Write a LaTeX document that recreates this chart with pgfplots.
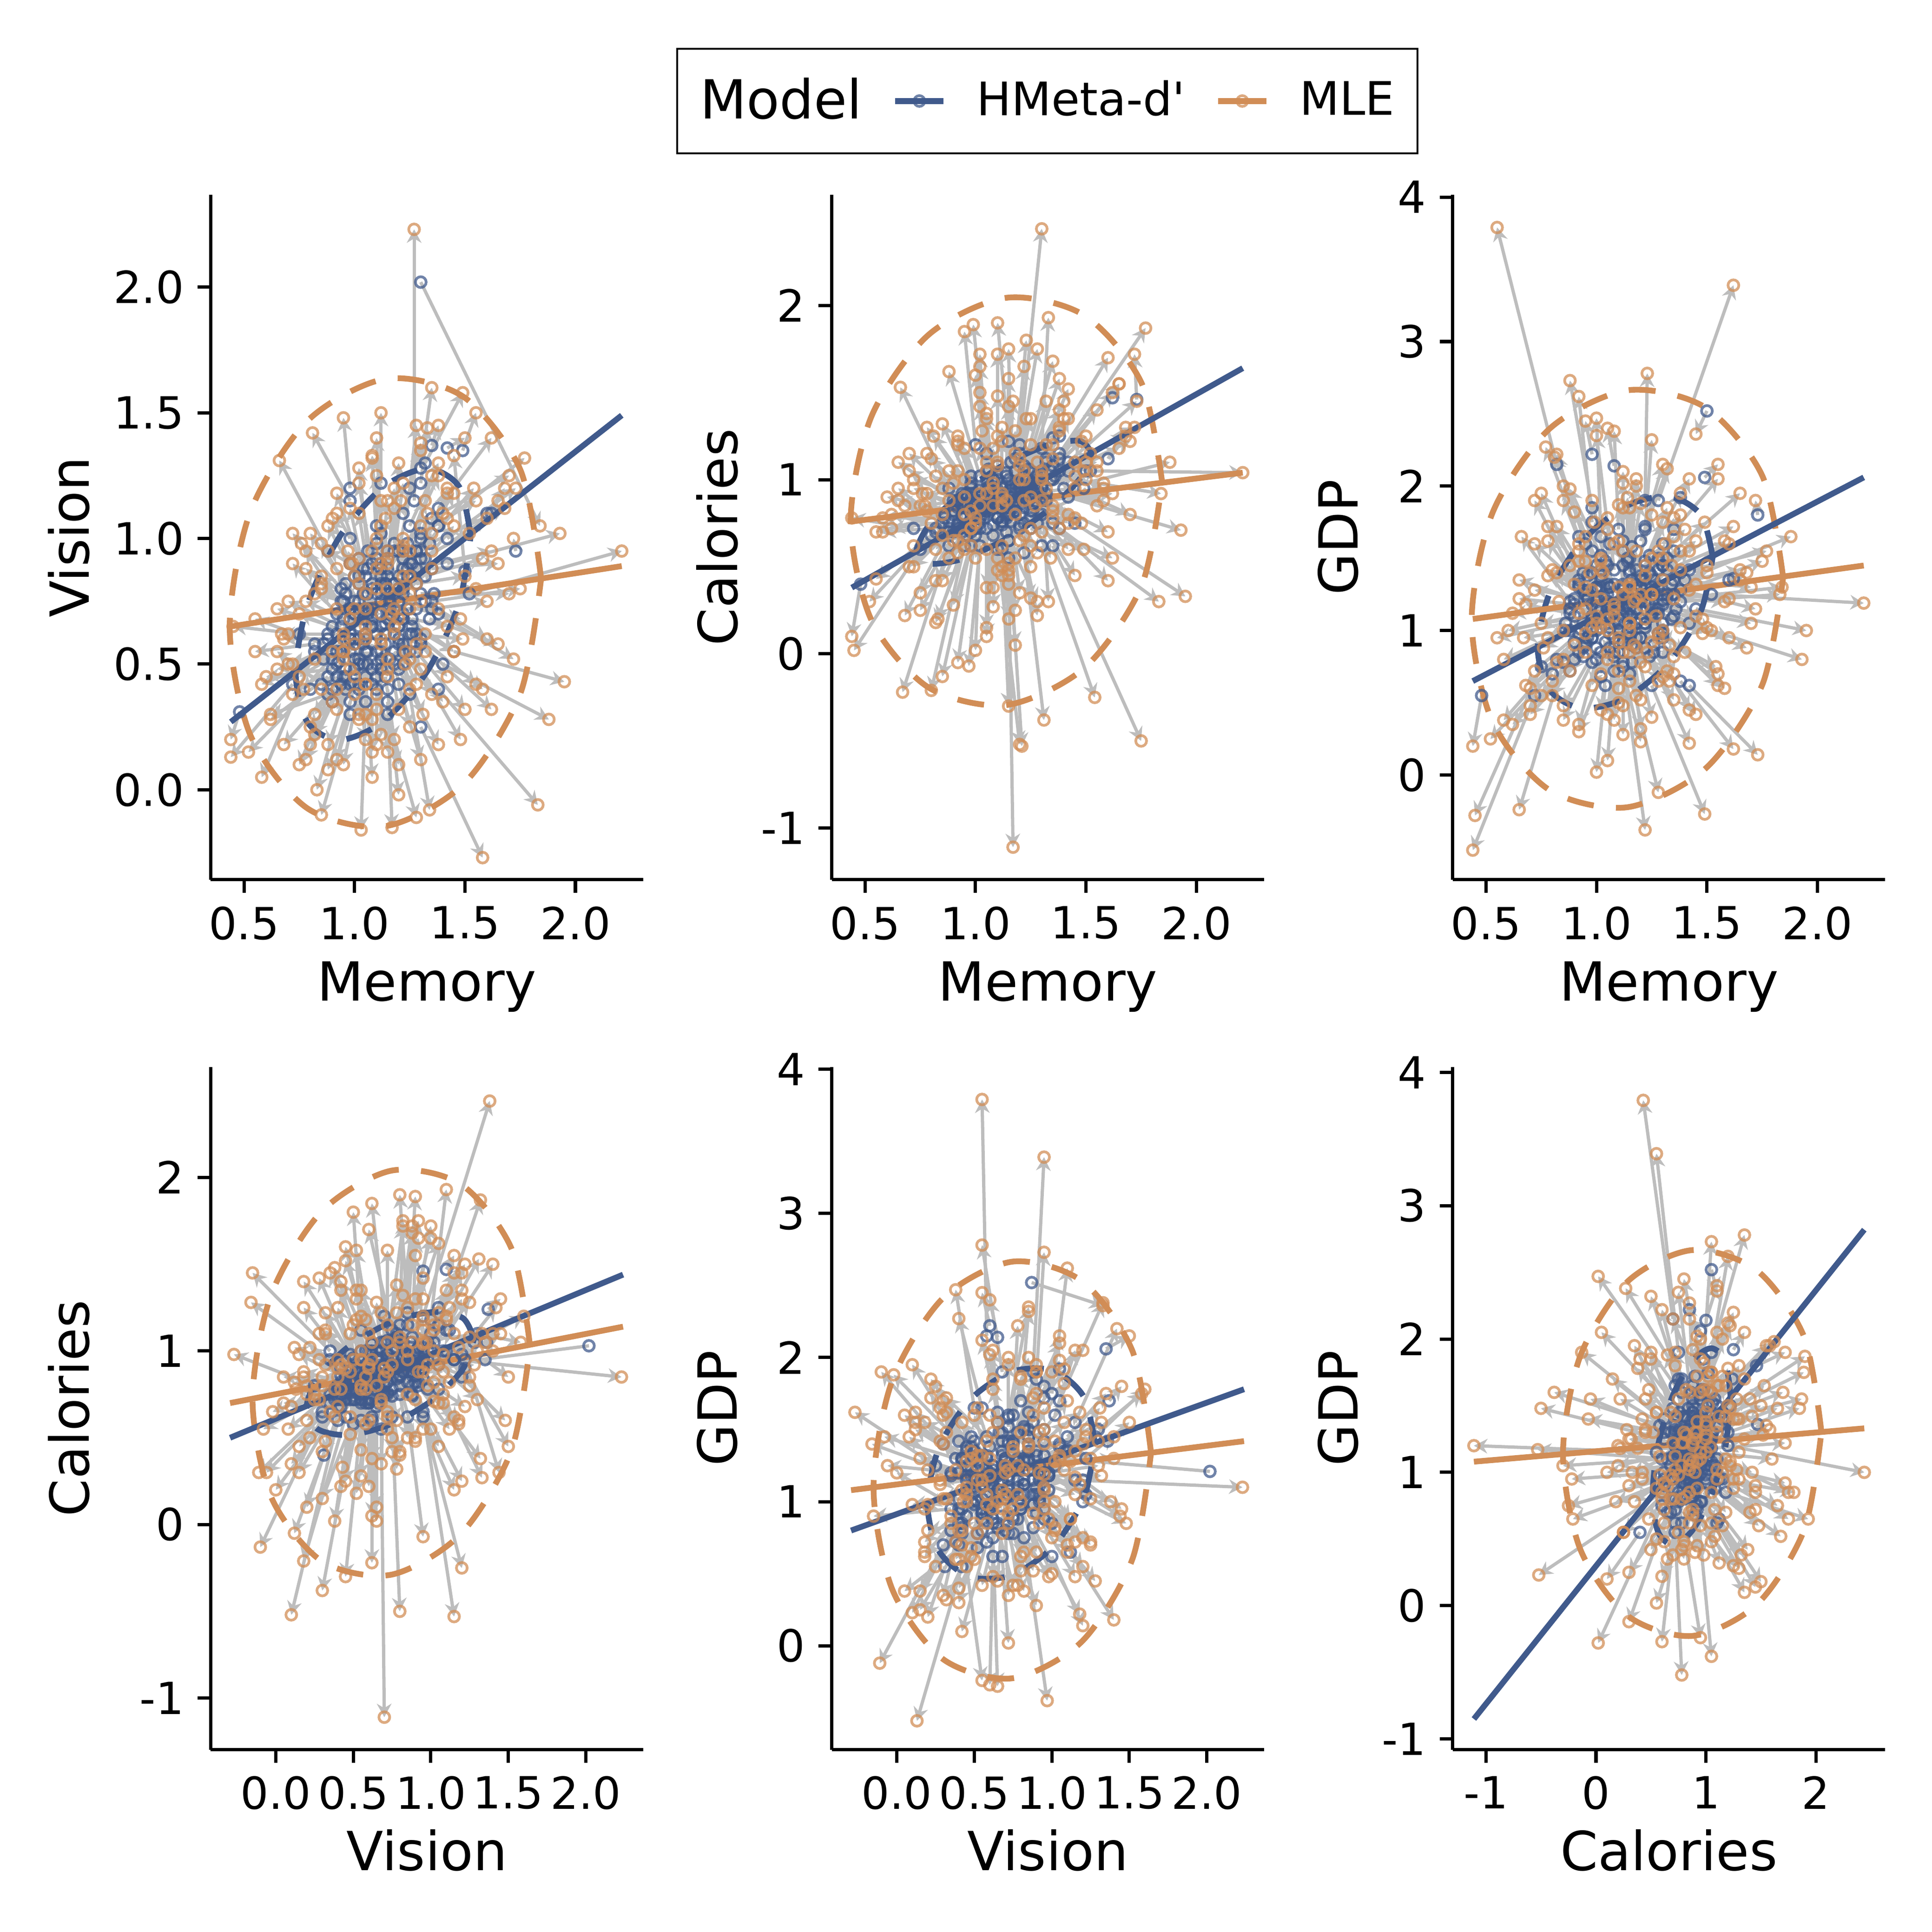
\documentclass[border=0pt]{standalone}
\usepackage{fontspec}
\setmainfont{DejaVu Sans}[Ligatures=TeXOff]
\usepackage{pgfplots}
\usepackage{pgfplotstable}
\pgfplotsset{compat=1.18}
\usetikzlibrary{arrows.meta}

\definecolor{hmeta}{HTML}{405A8C}
\definecolor{mle}{HTML}{D18D56}
\definecolor{arrowgray}{HTML}{BDBDBD}

% one row per subject: b = HMeta-d', o = MLE
\pgfplotstableread{
mb vb cb gb mo vo co go
.82 .58 .70 2.15 .55 .55 .43 3.79
1.28 .88 .75 1.90 1.62 .95 .55 3.39
.72 .42 .72 .55 .44 .13 .78 -.52
1.52 .78 1.05 1.25 2.21 .95 1.04 1.19
1.30 2.02 1.03 1.21 1.84 1.05 .92 1.30
1.27 1.15 .95 1.15 1.27 2.23 .85 1.10
1.20 .95 1.20 1.20 1.30 1.38 2.44 1.00
1.15 .68 .55 1.15 1.17 .70 -1.11 1.20
1.30 .25 .80 1.25 1.58 -.27 .98 1.62
.75 .62 .60 .75 .45 .65 .02 -.28
1.12 .82 .92 .75 1.22 .97 1.05 -.38
1.25 .62 .72 .62 1.49 .60 .60 -.27
1.15 .30 .65 .70 1.28 -.11 .30 -.12
1.35 .75 .62 1.25 1.75 .80 -.50 1.48
1.10 .40 .60 .85 1.20 .10 -.52 .23
1.15 .95 .65 1.10 1.21 1.15 -.53 1.17
1.42 .90 .90 1.05 1.93 1.02 .71 .80
1.45 .55 .75 1.15 1.95 .43 .33 1.00
1.38 .40 .72 1.20 1.83 -.06 .30 1.25
1.40 .50 .95 1.35 1.88 .28 1.10 1.65
1.38 1.05 1.15 1.40 1.77 1.32 1.87 1.55
.88 .95 .95 1.20 .66 1.31 1.53 1.65
.98 1.15 .95 1.55 .81 1.42 1.25 2.20
1.32 1.30 1.10 1.50 1.49 1.58 1.05 1.75
.98 .30 .62 1.40 .85 -.10 -.13 1.90
1.05 .35 .95 1.20 1.03 -.16 1.28 1.40
1.15 .35 1.00 .95 1.17 -.15 1.45 .90
1.25 .38 .78 1.30 1.34 -.08 .55 1.45
1.05 .85 1.15 1.45 .99 .90 1.89 1.75
1.30 1.00 1.18 .85 1.33 1.10 1.93 .65
1.18 .55 1.12 .95 1.23 .50 1.80 .85
.98 .90 .98 1.85 .88 .95 1.05 2.73
1.22 .68 1.05 1.90 1.23 .55 1.35 2.78
1.02 .50 .72 1.65 1.00 .38 .02 2.47
1.10 1.05 .78 1.70 1.08 1.33 .27 2.38
.98 1.00 1.02 1.75 .92 1.10 1.20 2.62
.92 .55 .88 1.65 .77 .40 .85 2.27
.95 .75 .78 1.60 .82 .78 .60 2.22
1.22 .80 .75 1.70 1.25 .85 .50 2.32
1.38 1.12 1.12 .65 1.62 1.40 1.50 .18
1.42 1.00 1.10 .62 1.73 1.20 1.45 .14
.80 .40 .68 .70 .52 .15 .30 .25
.82 .55 .72 .80 .58 .05 .70 .38
.85 .42 .75 .78 .65 .55 .95 -.24
.88 .62 .62 1.00 .67 .62 -.22 .95
1.02 .85 .62 1.30 .97 .95 -.07 1.40
1.12 .55 .60 1.10 1.15 .45 -.30 1.05
1.22 .50 .58 1.35 1.31 .30 -.38 1.60
1.30 .95 .62 .95 1.54 1.20 -.25 .75
1.35 .72 .75 1.10 1.60 .75 .42 .95
1.00 .42 .68 1.30 .92 .12 -.05 1.55
.95 .45 .62 .90 .80 .18 -.21 .65
1.30 1.28 1.05 1.45 1.35 1.60 1.20 1.78
1.15 .85 1.22 1.50 1.10 .80 1.90 1.87
1.00 .70 1.20 1.30 .95 .62 1.85 1.48
1.20 .80 1.15 .95 1.28 .82 1.75 .65
1.12 1.22 .90 1.30 1.12 1.50 .45 1.55
.98 1.20 .85 1.00 .95 1.48 .60 .85
1.25 1.20 .98 1.15 1.28 1.45 1.10 .95
1.30 1.22 .95 1.05 1.33 1.44 .30 .90
1.50 .87 1.05 2.52 1.45 1.33 1.10 2.36
1.49 1.35 .95 2.06 1.55 1.50 .85 2.15
1.62 1.10 1.47 1.36 1.65 1.15 1.55 1.35
1.73 .95 1.46 1.80 1.72 1.00 1.72 1.90
1.60 1.10 1.12 1.35 1.68 1.20 1.30 1.40
.48 .31 .40 .55 .44 .20 .10 .20
1.08 .65 1.00 2.14 1.05 .60 1.10 2.40
.98 .60 .85 2.22 .95 .55 .80 2.45
1.38 1.05 1.25 1.92 1.42 1.20 1.35 2.05
1.42 1.36 1.05 1.42 1.50 1.40 1.00 1.45
1.35 1.37 1.24 1.70 1.38 1.45 1.30 1.80
.93 .51 .72 1.01 .95 .60 .90 1.30
1.20 .85 .98 1.35 1.25 .95 1.20 1.50
1.02 .42 .75 .85 1.05 .20 .60 .80
1.28 .95 1.02 1.50 1.40 1.10 1.35 1.70
.98 .62 .80 1.10 .75 .70 .85 1.05
1.22 .70 .92 1.25 1.45 .55 .95 1.10
1.08 .80 .85 .95 1.10 1.00 .55 .50
.90 .35 .70 .80 .80 .25 .75 .55
1.30 1.02 1.05 1.60 1.55 1.15 1.10 2.05
1.05 .60 1.00 1.15 1.00 .45 1.60 1.10
1.15 .72 .82 1.40 1.15 .80 .40 1.85
1.00 .48 .78 1.00 .90 .35 .65 .90
1.25 .90 .95 1.10 1.35 1.25 .85 .70
1.12 .78 .90 1.28 1.30 .75 1.00 1.35
.95 .55 .85 .92 .70 .50 1.15 .60
1.35 .88 1.08 1.55 1.65 .90 1.55 1.95
1.08 .65 .68 1.05 1.05 .65 .10 1.00
1.18 .98 .95 1.20 1.20 1.30 1.00 1.25
.88 .38 .72 .72 .62 .30 .80 .35
1.02 .72 .88 1.42 .85 .85 .95 2.00
1.22 .58 1.00 1.05 1.40 .35 1.45 .85
1.10 .50 .78 1.18 1.15 .15 .45 1.30
1.28 .82 .98 1.30 1.50 .85 1.25 1.40
.98 .68 .92 1.08 .78 .95 1.30 .95
1.15 .88 .80 .98 1.18 1.20 .25 .55
1.05 .45 .82 1.25 1.08 .05 .85 1.60
1.18 .62 .88 .88 1.25 .40 .90 .40
.92 .70 .75 1.30 .72 .90 .50 1.90
1.32 .75 1.12 1.42 1.60 .60 1.70 1.60
1.00 .58 .85 1.15 .95 .55 1.00 1.15
1.12 .75 .95 .78 1.12 .90 1.30 .28
1.22 .95 .90 1.72 1.30 1.05 .70 2.15
.96 .40 .68 .95 .83 .00 .20 1.20
1.08 .90 1.00 1.32 1.02 1.22 1.50 1.50
1.25 .55 .82 1.12 1.48 .20 .75 .98
1.02 .52 .90 .68 .92 .40 1.25 .30
1.35 1.08 1.00 1.35 1.70 1.25 .80 1.30
1.14 .66 .70 1.48 1.18 .62 .05 2.05
.90 .48 .82 1.10 .60 .45 .90 1.00
1.18 .82 1.05 1.05 1.22 1.00 1.65 .75
1.06 .72 .86 1.60 1.00 .85 .75 2.35
1.26 .68 .90 .90 1.42 .65 .80 .45
.98 .35 .75 1.18 .88 .08 .55 1.45
1.12 1.02 .96 1.25 1.10 1.40 1.10 1.30
1.20 .48 .98 1.38 1.38 .18 1.40 1.55
.94 .65 .78 .82 .70 .75 .50 .42
1.30 .92 1.02 1.18 1.52 1.02 1.15 1.00
1.05 .55 .72 1.32 1.05 .30 .15 1.70
1.16 .78 1.10 1.10 1.15 .92 1.75 .85
.86 .58 .80 1.05 .55 .68 .70 .95
1.24 .88 .88 .82 1.42 1.18 .60 .22
1.02 .82 1.02 1.52 .88 1.05 1.62 1.98
1.10 .62 .85 1.00 1.12 .58 .85 .85
1.38 .70 1.05 1.28 1.72 .52 1.30 1.15
.92 .45 .72 1.35 .75 .10 .35 1.95
1.08 .58 .92 .72 1.05 .42 1.35 .10
1.22 1.10 1.00 1.45 1.30 1.35 1.05 1.75
1.00 .75 .85 .88 .85 .98 .80 .48
1.15 .40 .80 1.42 1.20 -.02 .65 1.88
1.28 .62 1.00 .98 1.55 .42 1.40 .70
.96 .78 .90 1.22 .72 1.02 1.00 1.28
1.12 .88 .74 1.15 1.15 1.15 .20 1.05
1.20 .65 .96 1.62 1.32 .55 1.20 2.12
1.04 .68 .78 .62 1.00 .72 .55 .02
1.34 .98 1.05 1.08 1.68 1.12 1.25 .88
.90 .52 .88 1.22 .65 .48 1.10 1.35
1.18 .72 .82 1.05 1.25 .72 .62 .92
1.06 .50 .96 1.30 1.02 .28 1.42 1.42
1.25 1.05 .92 1.38 1.38 1.30 .72 1.42
.98 .60 .70 .95 .82 .52 .18 .78
1.14 .82 .88 1.50 1.14 1.08 .88 1.92
1.02 .65 .82 1.08 .98 .68 .72 1.02
1.22 .78 1.08 .88 1.35 .88 1.68 .52
.94 .42 .80 1.28 .78 .12 .82 1.62
1.10 .92 .92 1.00 1.10 1.25 1.08 .72
1.30 .58 .88 1.45 1.62 .32 .92 1.72
1.05 .72 1.05 1.18 1.02 .82 1.72 1.22
.88 .60 .70 1.12 .68 .60 .22 1.18
1.16 .52 .90 .78 1.20 .32 1.12 .32
1.26 .85 .82 1.28 1.45 1.05 .45 1.32
1.10 .70 .85 1.20 1.12 .70 .90 1.25
1.05 .62 .82 1.12 1.00 .58 .78 1.05
1.18 .78 .92 1.28 1.22 .85 1.00 1.38
.98 .55 .78 1.02 .85 .40 .68 .80
1.24 .85 .95 1.40 1.35 .95 1.12 1.65
1.08 .48 .88 1.18 1.08 .28 .95 1.15
1.15 .92 .80 1.05 1.18 1.12 .55 .88
1.02 .75 .90 1.35 .92 .88 1.05 1.60
1.20 .60 .86 .95 1.30 .48 .88 .68
.95 .68 .84 1.25 .78 .75 .92 1.38
1.28 .72 .98 1.15 1.48 .68 1.22 1.08
1.12 .52 .76 1.32 1.10 .32 .48 1.62
1.06 .88 .94 .98 1.02 1.10 1.18 .70
.92 .50 .74 .98 .72 .38 .62 .72
1.22 .68 .90 1.48 1.32 .62 .95 1.85
1.14 .82 1.02 1.12 1.15 .95 1.42 1.00
1.00 .60 .72 1.20 .90 .55 .28 1.32
1.32 .85 .92 1.22 1.58 .92 .88 1.20
1.08 .72 .98 .85 1.05 .78 1.38 .42
.96 .45 .86 1.38 .82 .22 1.02 1.72
1.18 .95 .84 1.32 1.22 1.22 .68 1.45
1.04 .58 .80 .92 .98 .48 .62 .62
1.26 .62 1.04 1.25 1.42 .45 1.52 1.28
.90 .65 .82 1.18 .65 .72 .88 1.22
1.16 .70 .76 1.02 1.20 .68 .35 .78
1.10 .45 .94 1.08 1.10 .18 1.25 .95
1.00 .85 .88 1.45 .90 1.08 .98 1.82
1.22 .55 .84 1.20 1.35 .38 .78 1.22
1.06 .78 1.06 1.30 1.02 .92 1.65 1.48
.94 .55 .70 .88 .75 .45 .25 .55
1.30 .78 .96 1.00 1.55 .80 1.05 .62
1.12 .65 .88 1.55 1.12 .60 .92 2.02
1.02 .92 .82 1.15 .92 1.18 .58 1.12
1.20 .42 .90 1.30 1.30 .12 1.02 1.50
.98 .72 .96 .78 .85 .82 1.32 .38
1.14 .58 .78 1.22 1.15 .48 .52 1.30
1.24 .98 1.00 1.18 1.38 1.25 1.28 1.02
1.04 .50 .84 1.10 1.02 .30 .85 1.02
1.16 .75 .92 .90 1.20 .80 1.08 .52
.88 .45 .76 1.15 .62 .28 .72 1.12
1.08 .68 .74 1.42 1.05 .62 .38 1.78
1.26 .90 .86 1.35 1.42 1.08 .75 1.55
1.10 .55 1.00 .92 1.10 .38 1.48 .60
.96 .82 .92 1.28 .80 1.02 1.12 1.42
1.20 .65 .80 1.08 1.28 .58 .58 .98
1.34 .68 1.00 1.32 1.65 .58 1.18 1.42
1.02 .40 .78 1.02 .95 .10 .68 .98
1.12 .85 .98 1.62 1.12 1.05 1.22 2.10
.92 .62 .88 .85 .70 .62 1.05 .48
1.18 .50 .82 1.42 1.25 .25 .72 1.80
1.06 .95 .90 .88 1.02 1.28 .92 .45
1.28 .55 .94 1.12 1.50 .32 1.10 1.02
.98 .72 .76 1.08 .85 .80 .42 1.00
1.14 .62 1.04 1.25 1.15 .52 1.58 1.32
1.22 .88 .88 1.05 1.35 1.02 .82 .82
1.04 .78 .84 1.48 .98 .90 .72 1.90
.90 .40 .80 .92 .68 .18 .85 .62
1.16 .68 .96 1.35 1.18 .65 1.28 1.55
1.10 .98 .78 1.18 1.08 1.32 .38 1.18
1.30 .60 .90 .98 1.58 .40 .95 .60
1.00 .52 .92 1.28 .92 .32 1.22 1.48
1.20 .75 .74 1.22 1.25 .78 .32 1.25
.94 .80 .86 1.05 .76 .98 .92 .88
1.08 .42 .86 .82 1.08 .15 .98 .38
1.24 .72 1.06 1.52 1.38 .72 1.58 1.95
1.12 .90 .82 .92 1.12 1.15 .62 .48
1.02 .60 .94 1.38 .95 .52 1.18 1.65
1.18 .82 .88 1.15 1.22 .95 .88 1.08
.96 .48 .72 1.22 .82 .30 .42 1.40
1.36 .78 1.02 1.15 1.70 .78 1.22 1.05
1.06 .70 .90 1.02 1.05 .72 1.05 .85
1.14 .45 .84 1.18 1.18 .20 .80 1.22
1.28 .95 .94 1.42 1.45 1.18 1.02 1.62
.86 .52 .78 1.00 .58 .42 .78 .80
1.10 .78 1.08 1.05 1.10 .88 1.72 .92
1.20 .58 .72 1.30 1.28 .42 .22 1.55
1.04 .88 .86 1.22 .98 1.12 .82 1.28
.98 .42 .82 .95 .88 .18 .88 .72
1.16 .72 .94 1.58 1.18 .72 1.15 2.00
1.26 .65 .86 .85 1.45 .55 .78 .42
1.08 .82 .96 1.12 1.08 .95 1.18 1.10
.92 .58 .84 1.32 .72 .50 .95 1.60
1.22 .92 1.02 1.02 1.32 1.15 1.45 .72
1.12 .48 .76 1.45 1.12 .22 .50 1.85
1.00 .70 .80 .80 .92 .72 .65 .35
1.18 .62 .98 1.22 1.25 .52 1.35 1.25
1.32 .92 .88 1.25 1.60 1.08 .70 1.22
1.06 .55 .88 1.10 1.05 .42 .92 1.08
.94 .75 .92 1.40 .78 .88 1.15 1.72
1.14 .80 .80 .98 1.15 .90 .48 .65
}\subjects

\newcommand{\tickfont}{\fontsize{11.5}{13}\selectfont}
\newcommand{\labelfont}{\fontsize{14}{16}\selectfont}

\pgfplotsset{
  panel/.style={
    scale only axis, width=112.32pt, height=177.6pt,
    axis x line*=bottom, axis y line*=left,
    axis line style={line width=.85pt, black, -},
    tick style={line width=.85pt, black},
    tick align=outside, major tick length=3.4pt,
    ticklabel style={font=\tickfont},
    label style={font=\labelfont},
    xtick pos=bottom, ytick pos=left,
    x label style={at={(axis description cs:.5,-.177)}, anchor=base},
  },
  ylab wide/.style={y label style={at={(axis description cs:-.328,.5)}, anchor=center}},
  ylab narrow/.style={y label style={at={(axis description cs:-.265,.5)}, anchor=center}},
  memory axis/.style={xmin=.349, xmax=2.307, xlabel={Memory},
    xtick={.5,1,1.5,2}, xticklabels={0.5,1.0,1.5,2.0}},
  vision axis/.style={xmin=-.42, xmax=2.37, xlabel={Vision},
    xtick={0,.5,1,1.5,2}, xticklabels={0.0,0.5,1.0,1.5,2.0}},
  calories yaxis/.style={ymin=-1.297, ymax=2.636, ylabel={Calories},
    ytick={-1,0,1,2}, yticklabels={-1,0,1,2}},
  gdp yaxis/.style={ymin=-.72, ymax=4.015, ylabel={GDP},
    ytick={0,1,2,3,4}, yticklabels={0,1,2,3,4}},
  reg/.style={line width=1.5pt, no markers, forget plot},
  ell/.style={line width=1.5pt, no markers, smooth, dash pattern=on 7pt off 5.8pt, forget plot},
  pts/.style={only marks, mark=o, mark size=1.4pt, forget plot,
    mark options={line width=.7pt, draw opacity=.75}},
}

% arrows from HMeta-d' to MLE, then both point clouds
\newcommand{\cloud}[4]{%
  \addplot[draw=arrowgray, line width=.85pt, forget plot, -{Stealth[length=3.5pt,width=3.8pt]},
    quiver={u={(\thisrow{#2})-(\thisrow{#1})}, v={(\thisrow{#4})-(\thisrow{#3})}}]
    table[x=#1, y=#3] {\subjects};
  \addplot[pts, hmeta] table[x=#1, y=#3] {\subjects};
  \addplot[pts, mle] table[x=#2, y=#4] {\subjects};
}

\begin{document}
\begin{tikzpicture}
\path[use as bounding box] (0,0) rectangle (501.76pt,501.76pt);

% Memory / Vision
\begin{axis}[panel, ylab wide, memory axis, at={(54.72pt,273.28pt)}, height=177.92pt,
  ymin=-.358, ymax=2.368, ylabel={Vision},
  ytick={0,.5,1,1.5,2}, yticklabels={0.0,0.5,1.0,1.5,2.0},
  legend columns=3, legend cell align=left,
  legend style={at={(1.9345,1.1367)}, anchor=center, draw=black, line width=.45pt,
    font=\fontsize{12}{14}\selectfont, inner xsep=4pt, inner ysep=5.5pt,
    /tikz/column 2/.style={column sep=5.9pt},
    /tikz/column 3/.style={column sep=5.9pt},
    /tikz/column 4/.style={column sep=5.9pt},
    /tikz/column 5/.style={column sep=5.9pt}},
  legend image code/.code={\draw[mark repeat=2, mark phase=2, #1] plot coordinates {(0pt,0pt) (6.25pt,0pt) (12.5pt,0pt)};},
]
\cloud{mb}{mo}{vb}{vo}
\addplot[ell, mle] coordinates {(1.845,.841)(1.751,1.273)(1.493,1.564)(1.14,1.635)(.787,1.468)(.529,1.107)(.435,.649)(.529,.217)(.787,-.074)(1.14,-.145)(1.493,.022)(1.751,.383)(1.845,.841)};
\addplot[ell, hmeta] coordinates {(1.526,1.011)(1.473,1.207)(1.328,1.278)(1.130,1.204)(.932,1.006)(.787,.735)(.734,.465)(.787,.269)(.932,.198)(1.130,.272)(1.328,.470)(1.473,.741)(1.526,1.011)};
\addplot[reg, hmeta] coordinates {(.44,.27) (2.21,1.49)};
\addplot[reg, mle] coordinates {(.44,.65) (2.21,.89)};
\addlegendimage{empty legend}
\addlegendentry{\fontsize{14}{16}\selectfont Model}
\addlegendimage{hmeta, line width=1.5pt, mark=o, mark size=1.4pt, mark options={line width=.7pt, draw opacity=.75}}
\addlegendentry{HMeta-d'}
\addlegendimage{mle, line width=1.5pt, mark=o, mark size=1.4pt, mark options={line width=.7pt, draw opacity=.75}}
\addlegendentry{MLE}
\end{axis}

% Memory / Calories
\begin{axis}[panel, ylab narrow, memory axis, calories yaxis, at={(216pt,273.28pt)}, height=177.92pt]
\cloud{mb}{mo}{cb}{co}
\addplot[ell, mle] coordinates {(1.845,.987)(1.751,1.557)(1.493,1.943)(1.14,2.044)(.787,1.831)(.529,1.363)(.435,.763)(.529,.193)(.787,-.193)(1.14,-.294)(1.493,-.081)(1.751,.387)(1.845,.987)};
\addplot[ell, hmeta] coordinates {(1.526,1.152)(1.473,1.222)(1.328,1.198)(1.13,1.086)(.932,.916)(.787,.734)(.734,.588)(.787,.518)(.932,.542)(1.13,.654)(1.328,.824)(1.473,1.006)(1.526,1.152)};
\addplot[reg, hmeta] coordinates {(.44,.38) (2.21,1.64)};
\addplot[reg, mle] coordinates {(.44,.76) (2.21,1.04)};
\end{axis}

% Memory / GDP
\begin{axis}[panel, ylab narrow, memory axis, gdp yaxis, at={(377.28pt,273.28pt)}, height=177.92pt,
  ymin=-.725, ymax=4.017]
\cloud{mb}{mo}{gb}{go}
\addplot[ell, mle] coordinates {(1.845,1.368)(1.751,2.07)(1.493,2.544)(1.14,2.663)(.787,2.396)(.529,1.814)(.435,1.072)(.529,.37)(.787,-.104)(1.14,-.223)(1.493,.044)(1.751,.626)(1.845,1.368)};
\addplot[ell, hmeta] coordinates {(1.526,1.51)(1.473,1.80)(1.328,1.928)(1.13,1.859)(.932,1.612)(.787,1.254)(.734,.88)(.787,.59)(.932,.462)(1.13,.531)(1.328,.778)(1.473,1.136)(1.526,1.51)};
\addplot[reg, hmeta] coordinates {(.44,.65) (2.21,2.06)};
\addplot[reg, mle] coordinates {(.44,1.08) (2.21,1.45)};
\end{axis}

% Vision / Calories
\begin{axis}[panel, ylab wide, vision axis, calories yaxis, at={(54.72pt,47.36pt)}, height=177.28pt]
\cloud{vb}{vo}{cb}{co}
\addplot[ell, mle] coordinates {(1.64,1.03)(1.52,1.591)(1.193,1.961)(.745,2.039)(.297,1.805)(-.03,1.323)(-.15,.72)(-.03,.159)(.297,-.211)(.745,-.289)(1.193,-.055)(1.52,.427)(1.64,1.03)};
\addplot[ell, hmeta] coordinates {(1.278,1.07)(1.206,1.19)(1.008,1.224)(.738,1.163)(.468,1.024)(.27,.844)(.198,.67)(.27,.55)(.468,.516)(.738,.577)(1.008,.716)(1.206,.896)(1.278,1.07)};
\addplot[reg, hmeta] coordinates {(-.295,.50) (2.24,1.44)};
\addplot[reg, mle] coordinates {(-.295,.70) (2.24,1.14)};
\end{axis}

% Vision / GDP
\begin{axis}[panel, ylab narrow, vision axis, gdp yaxis, at={(216pt,47.36pt)}, height=177.28pt]
\cloud{vb}{vo}{gb}{go}
\addplot[ell, mle] coordinates {(1.64,1.34)(1.52,2.046)(1.193,2.531)(.745,2.665)(.297,2.411)(-.03,1.838)(-.15,1.10)(-.03,.394)(.297,-.091)(.745,-.225)(1.193,.029)(1.52,.602)(1.64,1.34)};
\addplot[ell, hmeta] coordinates {(1.278,1.404)(1.206,1.728)(1.008,1.91)(.738,1.9)(.468,1.702)(.27,1.366)(.198,.986)(.27,.662)(.468,.48)(.738,.49)(1.008,.688)(1.206,1.024)(1.278,1.404)};
\addplot[reg, hmeta] coordinates {(-.295,.80) (2.24,1.78)};
\addplot[reg, mle] coordinates {(-.295,1.08) (2.24,1.42)};
\end{axis}

% Calories / GDP
\begin{axis}[panel, ylab narrow, at={(377.28pt,47.36pt)}, height=177.28pt,
  xmin=-1.303, xmax=2.63, xlabel={Calories},
  xtick={-1,0,1,2}, xticklabels={-1,0,1,2},
  ymin=-1.08, ymax=4.04, ylabel={GDP},
  ytick={-1,0,1,2,3,4}, yticklabels={-1,0,1,2,3,4}]
\cloud{cb}{co}{gb}{go}
\addplot[ell, mle] coordinates {(2.05,1.303)(1.893,2.016)(1.463,2.515)(.875,2.667)(.287,2.431)(-.143,1.872)(-.3,1.137)(-.143,.424)(.287,-.075)(.875,-.227)(1.463,.009)(1.893,.568)(2.05,1.303)};
\addplot[ell, hmeta] coordinates {(1.225,1.562)(1.177,1.832)(1.048,1.931)(.87,1.832)(.692,1.563)(.563,1.196)(.515,.828)(.563,.558)(.692,.459)(.87,.558)(1.048,.827)(1.177,1.194)(1.225,1.562)};
\addplot[reg, hmeta] coordinates {(-1.11,-.85) (2.44,2.82)};
\addplot[reg, mle] coordinates {(-1.11,1.08) (2.44,1.33)};
\end{axis}
\end{tikzpicture}
\end{document}
